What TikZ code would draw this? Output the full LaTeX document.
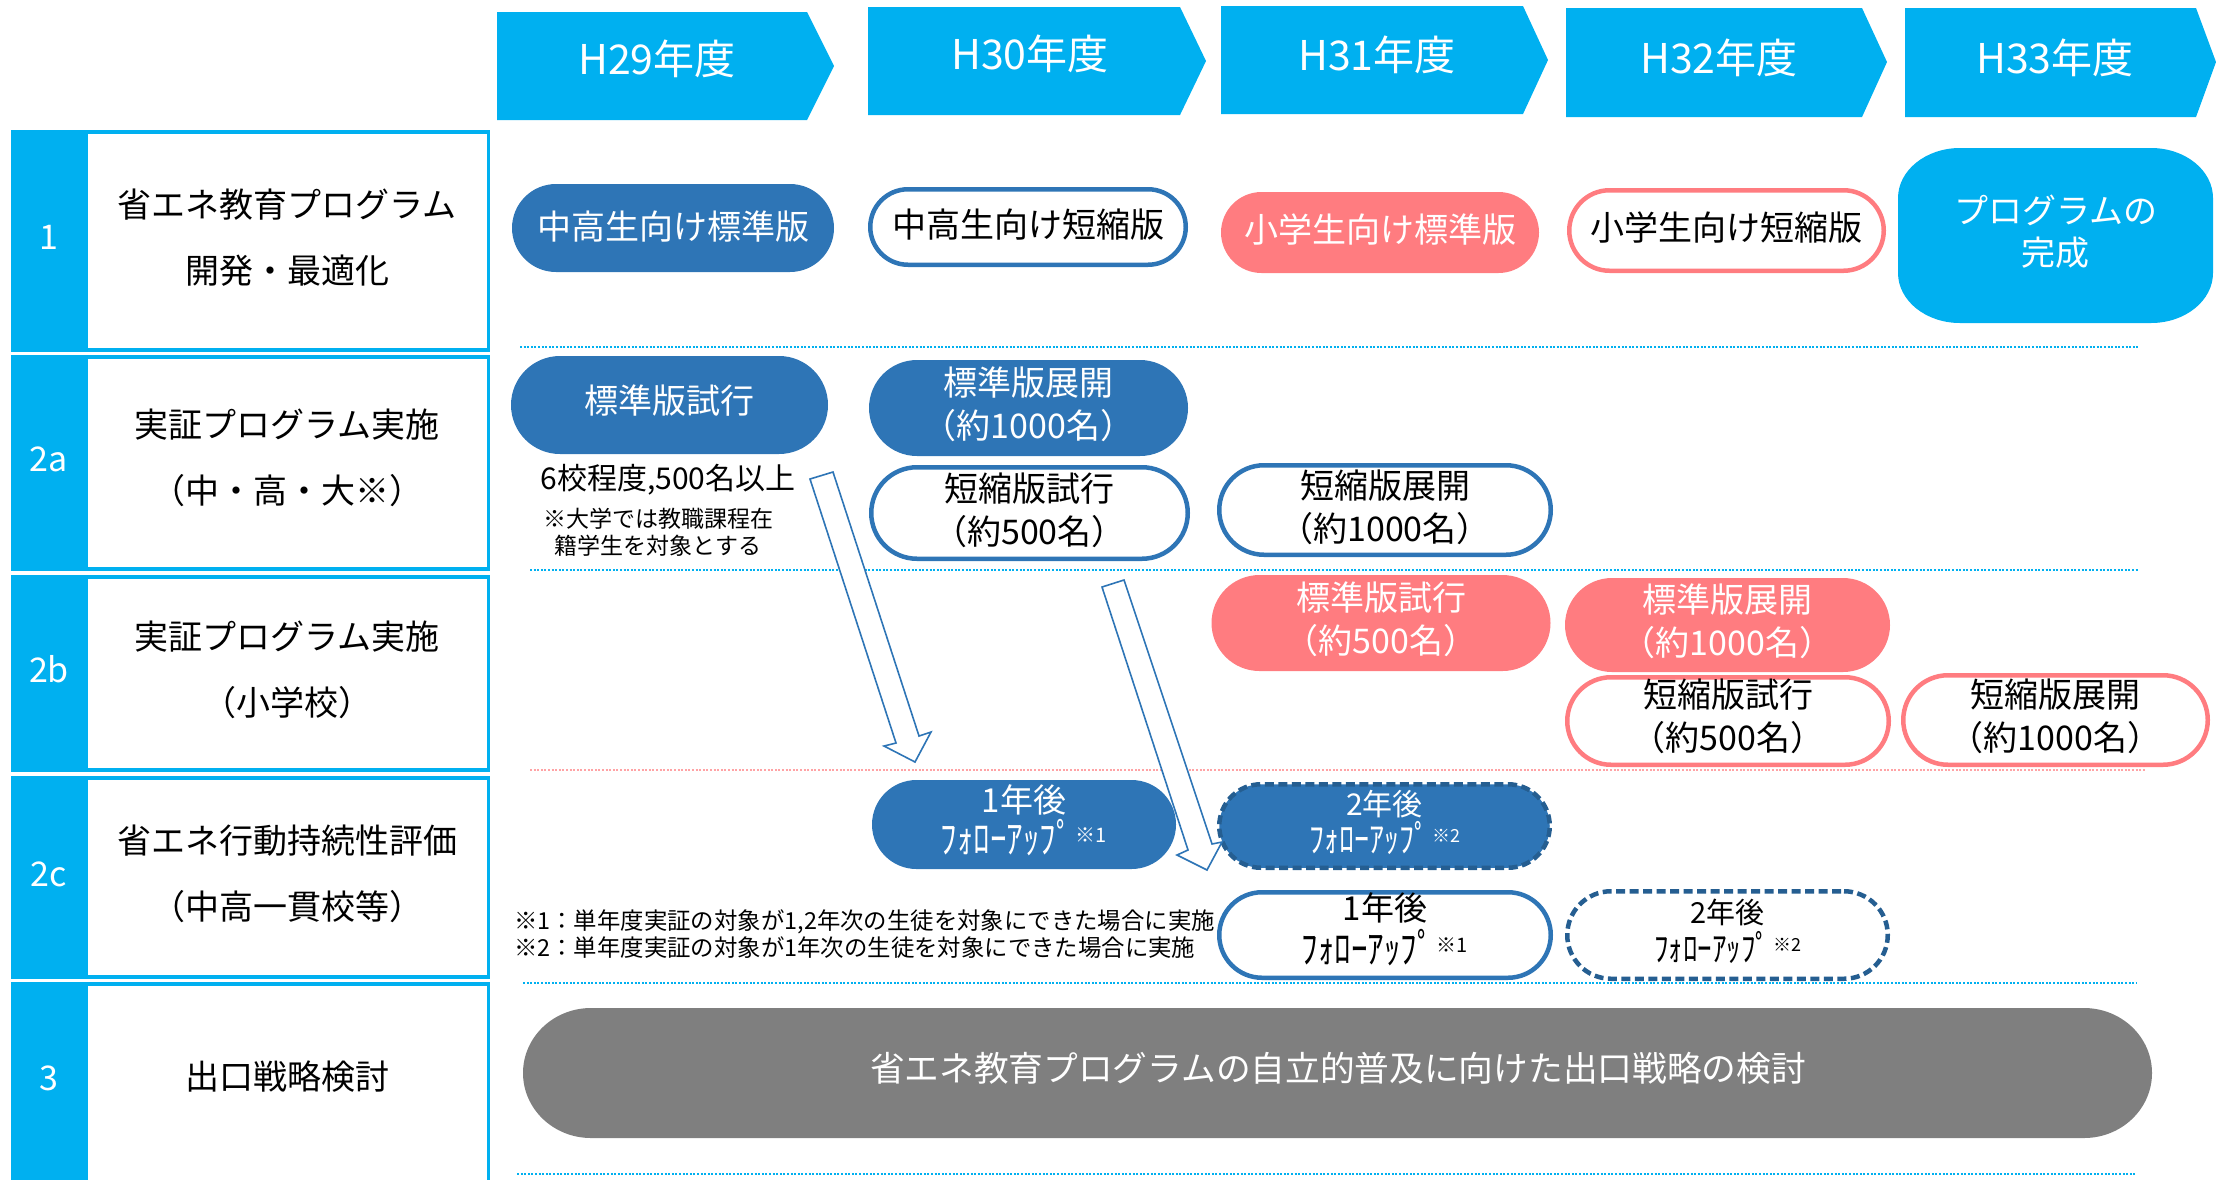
\documentclass[tikz,border=0pt]{standalone}
\usepackage{fontspec}
\usepackage{graphicx}
\setmainfont{Noto Sans CJK JP}
\definecolor{cyanC}{HTML}{00B0F0}
\definecolor{blueC}{HTML}{2E75B6}
\definecolor{salmonC}{HTML}{FF7C80}
\definecolor{navyC}{HTML}{255E91}
\definecolor{grayC}{HTML}{7F7F7F}
\definecolor{pinkdotC}{HTML}{FFA3A5}
% rounded rectangle with elliptical corners: cx cy w h rx ry style
\newcommand\rrshape[7]{%
  \path[#7] (#1+#3/2-#5,#2-#4/2)
    arc[start angle=90,end angle=0,x radius=#5pt,y radius=#6pt]
    -- (#1+#3/2,#2+#4/2-#6)
    arc[start angle=0,end angle=-90,x radius=#5pt,y radius=#6pt]
    -- (#1-#3/2+#5,#2+#4/2)
    arc[start angle=270,end angle=180,x radius=#5pt,y radius=#6pt]
    -- (#1-#3/2,#2-#4/2+#6)
    arc[start angle=180,end angle=90,x radius=#5pt,y radius=#6pt]
    -- cycle;}
\newcommand\follow[3]{\scalebox{1}[1.22]{ﾌｫﾛｰｱｯﾌﾟ}\hspace{3pt}\raisebox{#1}{\fontsize{#2}{#2}\selectfont ※#3}}
\begin{document}
\begin{tikzpicture}[x=1pt,y=-1pt,
  txt/.style={font=\fontsize{34}{43}\selectfont, align=center, inner sep=0pt},
  wtxt/.style={txt, text=white},
  lbl/.style={font=\fontsize{34}{66}\selectfont, align=center, inner sep=0pt},
  num/.style={font=\fontsize{34}{40}\selectfont, text=white, inner sep=0pt},
  hdr/.style={font=\fontsize{41}{48}\selectfont, text=white, inner sep=0pt},
  chev/.style={fill=cyanC},
  fillblue/.style={fill=blueC},
  fillsalmon/.style={fill=salmonC},
  fillcyan/.style={fill=cyanC},
  fillgray/.style={fill=grayC},
  lineblue/.style={draw=blueC, line width=4.5pt, fill=white},
  linesalmon/.style={draw=salmonC, line width=4.5pt, fill=white},
  dashnavyfill/.style={fill=blueC, draw=navyC, line width=4.5pt, dash pattern=on 9pt off 4.5pt},
  dashnavy/.style={fill=white, draw=navyC, line width=4.5pt, dash pattern=on 9pt off 4.5pt},
  dotcyan/.style={draw=cyanC, line width=2.5pt, dash pattern=on 2pt off 1.6pt},
  dotpink/.style={draw=pinkdotC, line width=2.5pt, dash pattern=on 2pt off 1.6pt},
  hollow/.style={draw=blueC, line width=1.6pt, fill=white, line join=miter}]
\useasboundingbox (0,0) rectangle (2216,1179);

% ---------- left column ----------
\fill[cyanC] (11,130) rectangle (490,352);
\fill[white] (88,134) rectangle (487,348);
\fill[cyanC] (11,355) rectangle (490,571);
\fill[white] (88,359) rectangle (487,567);
\fill[cyanC] (11,575) rectangle (490,772);
\fill[white] (88,579) rectangle (487,768);
\fill[cyanC] (11,776) rectangle (490,979);
\fill[white] (88,780) rectangle (487,975);
\fill[cyanC] (11,982) rectangle (490,1190);
\fill[white] (88,986) rectangle (487,1190);

\node[num] (k1) at (49,237) {1};
\node[num] (k2a) at (49,459) {2a};
\node[num] (k2b) at (49,669) {2b};
\node[num] (k2c) at (49,874) {2c};
\node[num] (k3) at (49,1078) {3};

\node[lbl] (l1) at (287,237.5) {省エネ教育プログラム\\開発・最適化};
\node[lbl] (l2a) at (287,457.5) {実証プログラム実施\\（中・高・大※）};
\node[lbl] (l2b) at (287,669.5) {実証プログラム実施\\（小学校）};
\node[lbl] (l2c) at (287,873.5) {省エネ行動持続性評価\\（中高一貫校等）};
\node[lbl] (l3) at (287,1077) {出口戦略検討};

% ---------- header chevrons ----------
\fill[chev] (497,12) -- (807,12) -- (834,66) -- (807,120) -- (497,120) -- cycle;
\fill[chev] (868,7) -- (1180,7) -- (1206,61) -- (1180,115) -- (868,115) -- cycle;
\fill[chev] (1221,6) -- (1523,6) -- (1548,60) -- (1523,114) -- (1221,114) -- cycle;
\fill[chev] (1566,8) -- (1862,8) -- (1887,62) -- (1862,117) -- (1566,117) -- cycle;
\fill[chev] (1905,8) -- (2196,8) -- (2216,62) -- (2196,117) -- (1905,117) -- cycle;
\node[hdr] (h29) at (657,59) {H29年度};
\node[hdr] (h30) at (1030,54) {H30年度};
\node[hdr] (h31) at (1377,55) {H31年度};
\node[hdr] (h32) at (1719,57.5) {H32年度};
\node[hdr] (h33) at (2055,57.5) {H33年度};

% ---------- dotted separators ----------
\draw[dotcyan] (520,347) -- (2138,347);
\draw[dotcyan] (530,570) -- (2139,570);
\draw[dotpink] (530,770) -- (2146,770);
\draw[dotcyan] (523,983) -- (2136,983);
\draw[dotcyan] (517,1174) -- (2136,1174);

% ---------- row 1 ----------
\rrshape{673}{228}{322}{88}{44}{44}{fillblue}
\node[wtxt] (n11) at (673,227) {中高生向け標準版};
\rrshape{1028}{227}{315.5}{75.5}{37.75}{37.75}{lineblue}
\node[txt] (n12) at (1028,225) {中高生向け短縮版};
\rrshape{1380}{232.5}{318}{81}{40.5}{40.5}{fillsalmon}
\node[wtxt] (n13) at (1380,230) {小学生向け標準版};
\rrshape{1726.5}{230.5}{314.5}{80.5}{40.25}{40.25}{linesalmon}
\node[txt] (n14) at (1726.5,228) {小学生向け短縮版};
\rrshape{2055.5}{235.5}{315}{175}{62}{50}{fillcyan}
\node[wtxt, font=\fontsize{34}{42}\selectfont] (n15) at (2055.5,232) {プログラムの\\完成};

% ---------- row 2a ----------
\rrshape{669.5}{405}{317}{98}{49}{49}{fillblue}
\node[wtxt] (n21) at (669.5,401) {標準版試行};
\rrshape{1028.5}{408}{319}{96}{48}{48}{fillblue}
\node[wtxt] (n22) at (1028.5,404.5) {標準版展開\\（約1000名）};
\rrshape{1029.5}{513}{316.5}{91.5}{45.75}{45.75}{lineblue}
\node[txt] (n23) at (1029.5,510) {短縮版試行\\（約500名）};
\rrshape{1385}{510}{331.5}{89.5}{44.75}{44.75}{lineblue}
\node[txt] (n24) at (1385,507) {短縮版展開\\（約1000名）};

\node[txt, font=\fontsize{30}{36}\selectfont] (a1) at (668,480) {6校程度,500名以上};
\node[txt, font=\fontsize{23}{27}\selectfont] (a2) at (658,532.5) {※大学では教職課程在\\籍学生を対象とする};

% ---------- row 2b ----------
\rrshape{1381}{623}{339}{96}{48}{48}{fillsalmon}
\node[wtxt] (n31) at (1381,619) {標準版試行\\（約500名）};
\rrshape{1727.5}{625}{325}{94}{47}{47}{fillsalmon}
\node[wtxt] (n32) at (1727.5,621.5) {標準版展開\\（約1000名）};
\rrshape{1728}{721}{321.5}{87.5}{43.75}{43.75}{linesalmon}
\node[txt] (n33) at (1728,716.5) {短縮版試行\\（約500名）};
\rrshape{2055.5}{720}{304.5}{89.5}{44.75}{44.75}{linesalmon}
\node[txt] (n34) at (2055.5,716.5) {短縮版展開\\（約1000名）};

% ---------- row 2c ----------
\rrshape{1024}{824.5}{304}{89}{44.5}{44.5}{fillblue}
\node[wtxt, font=\fontsize{33}{41}\selectfont] (n41) at (1024,820.5)
  {1年後\\\follow{11pt}{20}{1}};
\rrshape{1384.5}{826}{330.5}{83.5}{41.75}{41.75}{dashnavyfill}
\node[wtxt, font=\fontsize{30}{37}\selectfont] (n42) at (1384.5,822.5)
  {2年後\\\follow{10pt}{18}{2}};
\rrshape{1385}{935}{331.5}{85.5}{42.75}{42.75}{lineblue}
\node[txt, font=\fontsize{33}{43}\selectfont] (n43) at (1385,929.5)
  {1年後\\\follow{11pt}{20}{1}};
\rrshape{1727.5}{935}{320.5}{87.5}{43.75}{43.75}{dashnavy}
\node[txt, font=\fontsize{29}{38}\selectfont] (n44) at (1727.5,931)
  {2年後\\\follow{10pt}{18}{2}};

\node[anchor=west, align=left, inner sep=0pt, font=\fontsize{23.4}{27}\selectfont] (fn) at (514,934.5)
  {※1：単年度実証の対象が1,2年次の生徒を対象にできた場合に実施\\※2：単年度実証の対象が1年次の生徒を対象にできた場合に実施};

% ---------- row 3 ----------
\rrshape{1337.5}{1073}{1629}{130}{68}{65}{fillgray}
\node[wtxt, font=\fontsize{34.7}{42}\selectfont] (n5) at (1338,1068) {省エネ教育プログラムの自立的普及に向けた出口戦略の検討};

% ---------- hollow arrows ----------
\draw[hollow] (810,479) -- (833,472) -- (919,736) -- (931,732) -- (915,762) -- (884,746) -- (896,743) -- cycle;
\draw[hollow] (1102,587) -- (1124,580) -- (1212,844) -- (1222,842) -- (1207,870) -- (1177,855) -- (1188,850) -- cycle;
\end{tikzpicture}
\end{document}
